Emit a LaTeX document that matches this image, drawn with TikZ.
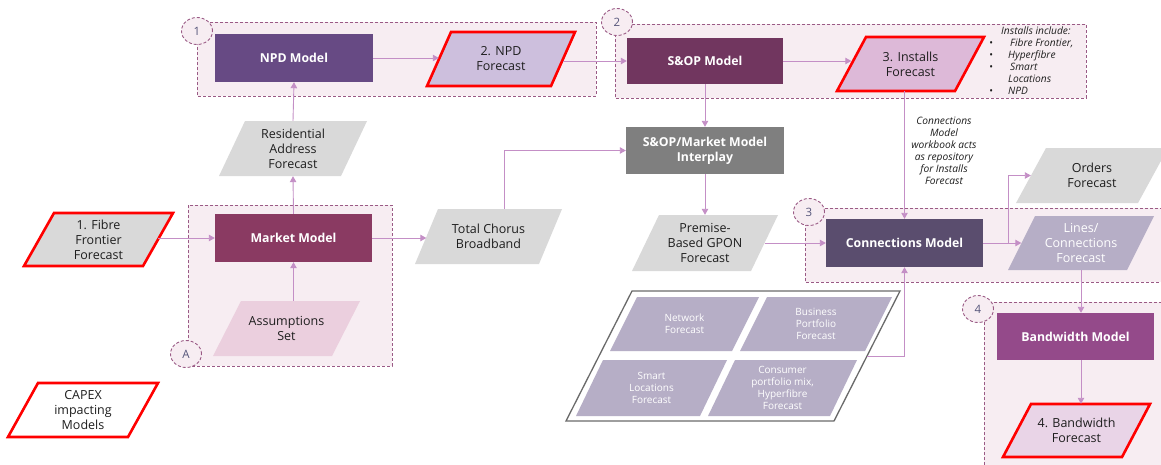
\documentclass[tikz,border=0pt]{standalone}
\usepackage{fontspec}
\setmainfont{Open Sans}
\usetikzlibrary{arrows.meta,shapes.geometric}

% palette
\definecolor{npdc}{HTML}{674A84}
\definecolor{sopc}{HTML}{71365F}
\definecolor{mktc}{HTML}{8A3A62}
\definecolor{ipc}{HTML}{7F7F7F}
\definecolor{cmc}{HTML}{5A4D6E}
\definecolor{bwc}{HTML}{944A8A}
\definecolor{grpfill}{HTML}{F7EDF2}
\definecolor{grpline}{HTML}{9A5A85}
\definecolor{connc}{HTML}{C48FC6}
\definecolor{greyf}{HTML}{D9D9D9}
\definecolor{lavf}{HTML}{B6AEC6}
\definecolor{npdff}{HTML}{CDBFDD}
\definecolor{instf}{HTML}{DDB9D8}
\definecolor{assf}{HTML}{EBCFDE}
\definecolor{bwff}{HTML}{E9D4E7}
\definecolor{txtc}{HTML}{1E1E1E}
\definecolor{tagc}{HTML}{55557A}
\definecolor{redc}{HTML}{FF0000}
\definecolor{framec}{HTML}{6A6A6A}

% parallelogram: [text opts]{name}{cx}{cy}{width}{height}{slant}{shape style}{text}
\newcommand\flowpara[9][]{%
  \path[#8] ({#3-#5/2-#7/2},{#4+#6/2}) -- ({#3-#5/2+#7/2},{#4-#6/2})
    -- ({#3+#5/2+#7/2},{#4-#6/2}) -- ({#3+#5/2-#7/2},{#4+#6/2}) -- cycle;
  \node[paratext,#1,minimum width=#5,minimum height=#6] (#2) at (#3,#4) {#9};
}
\newcommand\bulletitem{\makebox[19pt][l]{\textbullet}}

\tikzset{
  grp/.style={draw=grpline, fill=grpfill, dash pattern=on 3pt off 2pt, line width=0.9pt},
  tag/.style={ellipse, draw=grpline, fill=grpfill, dash pattern=on 3pt off 2pt,
    line width=0.9pt, minimum width=31, minimum height=27, inner sep=0,
    text=tagc, font=\fontsize{11.5}{13}\selectfont},
  model/.style={rectangle, inner sep=0, text=white, align=center,
    font=\bfseries\fontsize{12.3}{15}\selectfont},
  paratext/.style={rectangle, inner sep=0, align=center, text=txtc,
    font=\fontsize{12.5}{15}\selectfont},
  whitetext/.style={text=white},
  celltext/.style={text=white, font=\fontsize{10}{12}\selectfont},
  greypara/.style={fill=greyf},
  capexpara/.style={draw=redc, line width=2.6pt, line join=miter},
  cellpara/.style={fill=lavf},
  notetext/.style={inner sep=0, text=txtc, font=\itshape\fontsize{10.2}{12}\selectfont},
  conn/.style={draw=connc, line width=0.9pt, -{Triangle[length=6pt,width=6.5pt]}},
}

\begin{document}
\begin{tikzpicture}[x=1pt,y=-1pt]
\useasboundingbox (0,0) rectangle (1161,464);
\clip (0,0) rectangle (1161,464);
\fill[white] (0,0) rectangle (1161,464);

% dashed groups
\path[grp] (197,22) rectangle (596,96);
\path[grp] (615,24) rectangle (1086,98);
\path[grp] (188,205) rectangle (392,366);
\path[grp] (805,208) rectangle (1175,282);
\path[grp] (984,302) rectangle (1175,480);

% group tags
\node[tag] (t1) at (197,31) {1};
\node[tag] (t2) at (617,22) {2};
\node[tag] (t3) at (809,212) {3};
\node[tag] (t4) at (978,309) {4};
\node[tag] (tA) at (186,354) {A};

% models
\node[model, fill=npdc, minimum width=158, minimum height=48] (npd) at (294,58) {NPD Model};
\node[model, fill=sopc, minimum width=156, minimum height=46] (sop) at (705,61) {S\&OP Model};
\node[model, fill=ipc, minimum width=158, minimum height=47] (ip) at (705,150.5) {S\&OP/Market Model\\Interplay};
\node[model, fill=mktc, minimum width=157, minimum height=48] (mkt) at (293.5,238) {Market Model};
\node[model, fill=cmc, minimum width=157, minimum height=48] (cm) at (904.5,243) {Connections Model};
\node[model, fill=bwc, minimum width=157, minimum height=47] (bwm) at (1075.5,336.5) {Bandwidth Model};

% data parallelograms
\flowpara{res}{293}{148.5}{122}{55}{26}{greypara}{Residential\\Address\\Forecast}
\flowpara{npdf}{501}{59}{124}{54}{24}{fill=npdff,capexpara}{2. NPD\\Forecast}
\flowpara{inst}{910.5}{64}{118}{54}{29}{fill=instf,capexpara}{3. Installs\\Forecast}
\flowpara{fib}{98.5}{239.5}{119}{53}{30}{greypara,capexpara}{1. Fibre\\Frontier\\Forecast}
\flowpara{ass}{286.5}{328.5}{119}{55}{28}{fill=assf}{Assumptions\\Set}
\flowpara{capex}{83}{410}{120}{54}{30}{fill=white,capexpara}{CAPEX\\impacting\\Models}
\flowpara{tcb}{488.5}{236.5}{124}{55}{23}{greypara}{Total Chorus\\Broadband}
\flowpara{pb}{705}{243}{119}{56}{27}{greypara}{Premise-\\Based GPON\\Forecast}
\flowpara{ord}{1092}{175.5}{122}{55}{30}{greypara}{Orders\\Forecast}
\flowpara[whitetext]{lines}{1081}{243}{119}{54}{27}{cellpara}{Lines/\\Connections\\Forecast}
\flowpara{bwf}{1076.5}{430.5}{119}{53}{28}{fill=bwff,capexpara}{4. Bandwidth\\Forecast}

% framed block of forecasts
\flowpara{grid}{733}{356}{268}{130}{66}{fill=white,draw=framec,line width=1.3pt}{}
\flowpara[celltext]{net}{684.5}{324}{122}{54}{27}{cellpara}{Network\\Forecast}
\flowpara[celltext]{bus}{816}{324}{125}{54}{27}{cellpara}{Business\\Portfolio\\Forecast}
\flowpara[celltext]{sml}{651.5}{388}{124}{56}{27}{cellpara}{Smart\\Locations\\Forecast}
\flowpara[celltext]{con}{782.5}{388}{122}{56}{27}{cellpara}{Consumer\\portfolio mix,\\Hyperfibre\\Forecast}

% notes
\node[notetext, align=left, anchor=north west] (incl) at (989,27) {%
  \hspace*{12pt}Installs include:\\
  \bulletitem\hspace*{2pt}Fibre Frontier,\\
  \bulletitem Hyperfibre\\
  \bulletitem\hspace*{2pt}Smart\\
  \hspace*{19pt}Locations\\
  \bulletitem NPD};
\node[notetext, align=center] (repo) at (944,151) {Connections\\Model\\workbook acts\\as repository\\for Installs\\Forecast};

% connectors
\draw[conn] (res.north) -- (npd.south);
\draw[conn] (mkt.north) -- (res.south);
\draw[conn] (mkt.south |- ass.north) -- (mkt.south);
\draw[conn] (mkt.west -| fib.east) -- (mkt.west);
\draw[conn] (mkt.east) -- (mkt.east -| tcb.west);
\draw[conn] ([xshift=15.5]tcb.north) |- (ip.west);
\draw[conn] (npd.east) -- (npd.east -| npdf.west);
\draw[conn] (sop.west -| npdf.east) -- (sop.west);
\draw[conn] (sop.east) -- (sop.east -| inst.west);
\draw[conn] (sop.south) -- (ip.north);
\draw[conn] (ip.south) -- (pb.north);
\draw[conn] (pb.east) -- (cm.west);
\draw[conn] (cm.north |- inst.south) -- (cm.north);
\draw[conn] (cm.east) -- (lines.west);
\draw[conn] ([xshift=25]cm.east) |- (ord.west);
\draw[conn] (lines.south) -- (lines.south |- bwm.north);
\draw[conn] (bwm.south -| lines.south) -- (bwf.north -| lines.south);
\draw[conn] (grid.east) -| (cm.south);
\end{tikzpicture}
\end{document}
